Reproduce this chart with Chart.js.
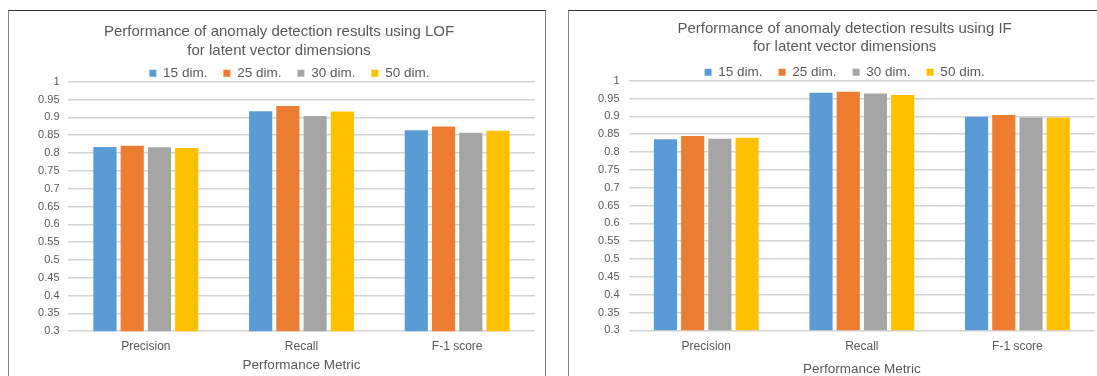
<!DOCTYPE html>
<html>
<head>
<meta charset="utf-8">
<script src="https://cdn.jsdelivr.net/npm/chart.js@4.4.1/dist/chart.umd.min.js"></script>
<style>
	html, body { margin: 0; padding: 0; background: #fff; overflow: hidden; width: 1097px; height: 376px; }
	.box { position: absolute; top: 9.5px; height: 400px; border: 1.5px solid #888; border-top-color: #333; border-bottom: none; }
	#boxLof { left: 8px; width: 536px; }
	#boxIf { left: 568px; width: 540px; }
	canvas { position: absolute; left: 0; top: 0; }
</style>
</head>
<body>

<div class="box" id="boxLof"><canvas id="lofChart" width="536" height="365"></canvas></div>
<div class="box" id="boxIf"><canvas id="ifChart" width="528" height="365"></canvas></div>

<script>
// categories and series
var metrics = ["Precision", "Recall", "F-1 score"];
var dimLabels = ["15 dim.", "25 dim.", "30 dim.", "50 dim."];
var dimColors = ["#5B9BD5", "#ED7D31", "#A5A5A5", "#FFC000"];

// LOF results
var lof15 = [0.817, 0.917, 0.864];
var lof25 = [0.820, 0.932, 0.874];
var lof30 = [0.816, 0.904, 0.857];
var lof50 = [0.814, 0.916, 0.862];

// IF results
var if15 = [0.836, 0.966, 0.899];
var if25 = [0.845, 0.969, 0.904];
var if30 = [0.837, 0.964, 0.897];
var if50 = [0.840, 0.960, 0.897];

var yMin = 0.3;
var yMax = 1;
var yStep = 0.05;

var textGray = "#595959";
var fontName = "'Liberation Sans', Arial, sans-serif";

// chart.js legend is taller than excel's, trim it and allow a sideways nudge
var legendTweak = function(trim, shift) {
	return {
		id: "legendTweak",
		afterInit: function(chart) {
			var legend = chart.legend;
			var fit = legend.fit;
			legend.fit = function() {
				fit.call(this);
				this.height -= trim;
			};
		},
		afterLayout: function(chart) {
			chart.legend.left += shift;
			chart.legend.right += shift;
		}
	};
};

var makeChart = function(id, titleLines, series, lay) {
	var datasets = [];
	for (var i = 0; i < series.length; i++) {
		datasets.push({
			label: dimLabels[i],
			data: series[i],
			backgroundColor: dimColors[i],
			borderWidth: 0,
			categoryPercentage: 0.7,
			barPercentage: 0.85
		});
	}

	var context = document.getElementById(id).getContext("2d");
	return new Chart(context, {
		type: "bar",
		data: {
			labels: metrics,
			datasets: datasets
		},
		options: {
			responsive: false,
			animation: false,
			devicePixelRatio: 1,
			layout: {
				padding: { left: lay.padLeft, right: lay.padRight, top: 0, bottom: 0 }
			},
			plugins: {
				title: {
					display: true,
					text: titleLines,
					color: textGray,
					font: { family: fontName, size: 15, weight: "normal", lineHeight: 1.22 },
					padding: { top: lay.titleTop, bottom: lay.titleBottom }
				},
				legend: {
					display: true,
					position: "top",
					labels: {
						color: textGray,
						font: { family: fontName, size: 13.5 },
						boxWidth: 7,
						boxHeight: 7,
						padding: 16
					}
				},
				tooltip: { enabled: false }
			},
			scales: {
				x: {
					grid: { display: false, drawTicks: false },
					border: { display: false },
					ticks: {
						color: textGray,
						font: { family: fontName, size: 12 },
						padding: lay.xTickPad
					},
					title: {
						display: true,
						text: "Performance Metric",
						color: textGray,
						font: { family: fontName, size: 13.5, lineHeight: 1.2 },
						padding: { top: 0, bottom: lay.xTitlePad }
					},
					afterFit: function(scale) {
						scale.height = lay.xHeight;
					}
				},
				y: {
					min: yMin,
					max: yMax,
					grid: { color: "#d4d4d4", lineWidth: 1.6, drawTicks: false },
					border: { display: false },
					ticks: {
						stepSize: yStep,
						color: textGray,
						font: { family: fontName, size: 11 },
						padding: lay.yTickPad,
						callback: function(v) {
							return String(parseFloat(Number(v).toFixed(2)));
						}
					},
					afterFit: function(scale) {
						scale.width = lay.yWidth;
					}
				}
			}
		},
		plugins: [legendTweak(lay.legendTrim, lay.legendShift)]
	});
};

makeChart("lofChart",
	["Performance of anomaly detection results using LOF", "for latent vector dimensions"],
	[lof15, lof25, lof30, lof50],
	{ padLeft: 14, padRight: 10, yWidth: 45, yTickPad: 8.5, titleTop: 12, titleBottom: -9.1,
	  legendTrim: 8.35, legendShift: 10.4, xHeight: 44.7, xTickPad: 8, xTitlePad: 2.6 });

makeChart("ifChart",
	["Performance of anomaly detection results using IF", "for latent vector dimensions"],
	[if15, if25, if30, if50],
	{ padLeft: 25, padRight: 1.8, yWidth: 34.5, yTickPad: 9, titleTop: 8.85, titleBottom: -6.9,
	  legendTrim: 8.35, legendShift: 0, xHeight: 45.7, xTickPad: 8.8, xTitlePad: -1 });
</script>
</body>
</html>
